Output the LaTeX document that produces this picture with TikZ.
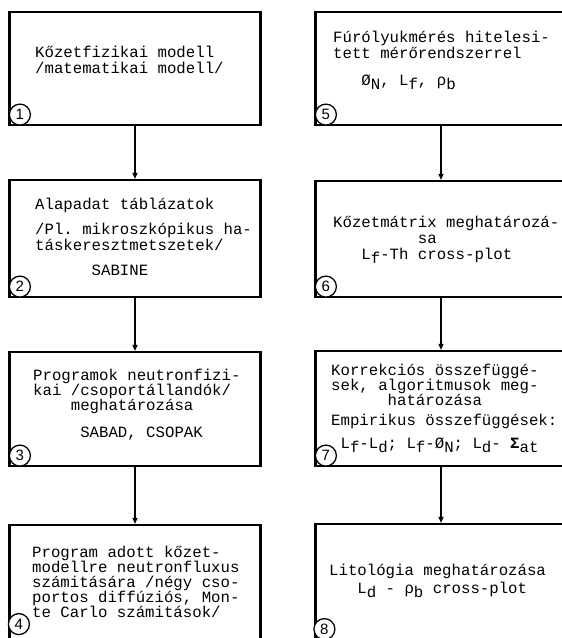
\documentclass[tikz,border=0pt]{standalone}
\usepackage{fontspec}
\setmonofont{Liberation Mono}
\setsansfont{Liberation Sans}
\usetikzlibrary{arrows.meta}
\newcommand\ind[1]{\hspace*{#1\fontcharwd\font`0}}
\newcommand\lowidx[1]{\raisebox{-4pt}{#1}}

\begin{document}
\begin{tikzpicture}[x=1pt,y=-1pt,
    box/.style={draw,line width=2.2pt,minimum width=251pt,inner sep=0pt},
    txt/.style={anchor=base west,align=left,inner sep=0pt,
      font=\ttfamily\fontsize{15.7}{15}\selectfont},
    num/.style={draw,circle,line width=1.3pt,fill=white,minimum size=21pt,
      inner sep=0pt,font=\sffamily\fontsize{15}{15}\selectfont},
    arr/.style={line width=1.3pt,-{Triangle[length=6pt,width=5pt]}}]
  \useasboundingbox (0,0) rectangle (562,638);
  % left column
  \node[box,minimum height=113pt] (b1) at (135,68.5) {};
  \node[box,minimum height=117pt] (b2) at (135,238.5) {};
  \node[box,minimum height=114pt] (b3) at (135,409) {};
  \node[box,minimum height=117pt] (b4) at (135,583.5) {};
  % right column
  \node[box,minimum height=113pt] (b5) at (441,68.5) {};
  \node[box,minimum height=116pt] (b6) at (441,239) {};
  \node[box,minimum height=115pt] (b7) at (441,408.5) {};
  \node[box,minimum height=118pt] (b8) at (441,583) {};
  \draw[arr] (b1) -- (b2);
  \draw[arr] (b2) -- (b3);
  \draw[arr] (b3) -- (b4);
  \draw[arr] (b5) -- (b6);
  \draw[arr] (b6) -- (b7);
  \draw[arr] (b7) -- (b8);
  % texts, placed at the baseline of their last line
  \node[txt] (t1) at (35,73) {Kőzetfizikai modell\\[1pt]/matematikai modell/};
  \node[txt] (t2) at (35,275) {Alapadat táblázatok\\[10pt]/Pl. mikroszkópikus ha-\\[0.5pt]%
    táskeresztmetszetek/\\[10pt]\ind{6}SABINE};
  \node[txt] (t3) at (33,437) {Programok neutronfizi-\\kai /csoportállandók/\\%
    \ind{4}meghatározása\\[12pt]\ind{5}SABAD, CSOPAK};
  \node[txt] (t4) at (32,617) {Program adott kőzet-\\modellre neutronfluxus\\%
    számitására /négy cso-\\portos diffúziós, Mon-\\te Carlo számitások/};
  \node[txt] (t5) at (333,85) {Fúrólyukmérés hitelesi-\\[1pt]tett mérőrendszerrel\\[12pt]%
    \ind{3}Ø\lowidx{N}, L\lowidx{f}, ρ\lowidx{b}};
  \node[txt] (t6) at (333,259) {Kőzetmátrix meghatározá-\\[1pt]\ind{9}sa\\[1pt]%
    \ind{3}L\lowidx{f}-Th cross-plot};
  \node[txt] (t7) at (331,448) {Korrekciós összefüggé-\\sek, algoritmusok meg-\\%
    \ind{6}határozása\\[5pt]Empirikus összefüggések:\\[8pt]%
    \ind{1}L\lowidx{f}-L\lowidx{d}; L\lowidx{f}-Ø\lowidx{N}; L\lowidx{d}- \textbf{Σ}\lowidx{at}};
  \node[txt] (t8) at (329,593) {Litológia meghatározása\\[3pt]%
    \ind{3}L\lowidx{d} - ρ\lowidx{b} cross-plot};
  % numbers
  \node[num] (n1) at ([shift={(11.5,-11.5)}]b1.south west) {1};
  \node[num] (n2) at ([shift={(11.5,-11.5)}]b2.south west) {2};
  \node[num] (n3) at ([shift={(11.5,-11.5)}]b3.south west) {3};
  \node[num] (n4) at ([shift={(10.5,-19)}]b4.south west) {4};
  \node[num] (n5) at ([shift={(11.5,-11.5)}]b5.south west) {5};
  \node[num] (n6) at ([shift={(11.5,-11.5)}]b6.south west) {6};
  \node[num] (n7) at ([shift={(11.5,-11.5)}]b7.south west) {7};
  \node[num] (n8) at ([shift={(10,-14)}]b8.south west) {8};
\end{tikzpicture}
\end{document}
